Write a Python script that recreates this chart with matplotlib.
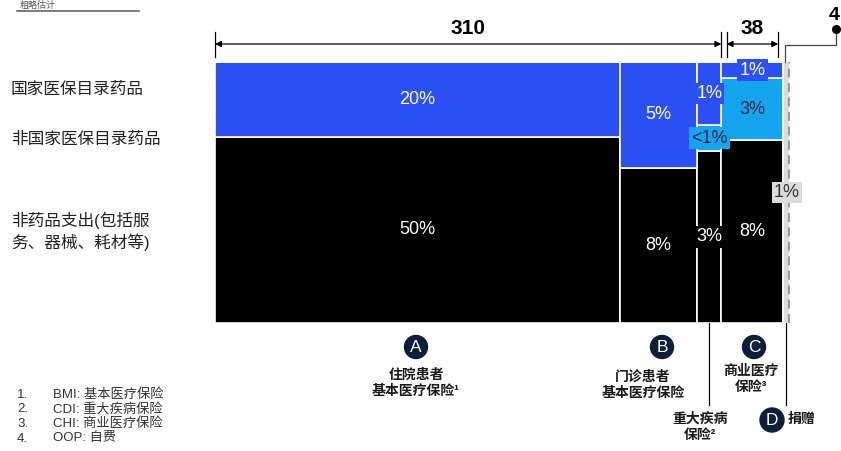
import matplotlib
matplotlib.use('Agg')
import matplotlib.pyplot as plt
import matplotlib.transforms as mtransforms
import matplotlib.patches as mpatches
import matplotlib.lines as mlines
import numpy as np

plt.rcParams['font.family'] = ['Liberation Sans', 'Noto Sans CJK SC', 'DejaVu Sans']

# ---------------- data ----------------
payers = ['住院患者\n基本医疗保险¹', '门诊患者\n基本医疗保险', '重大疾病\n保险²', '商业医疗\n保险³', '捐赠']
payer_letters = ['A', 'B', '', 'C', 'D']
col_widths = [248, 47, 15, 38, 4]          # spend per payer (bn)
group_totals = ['310', '38', '4']
row_names = ['国家医保目录药品', '非国家医保目录药品', '非药品支出(包括服\n务、器械、耗材等)']

nrdl_drugs = [20, 5.4, 1.1, 0.75, 0]       # share of total spend, %
non_nrdl_drugs = [0, 0, 0.45, 2.85, 0]
non_drug = [50, 7.9, 3.0, 8.4, 0]
donation = [0, 0, 0, 0, 1]

lab_nrdl = ['20%', '5%', '1%', '1%', '']
lab_non_nrdl = ['', '', '<1%', '3%', '']
lab_non_drug = ['50%', '8%', '3%', '8%', '']
lab_donation = ['', '', '', '', '1%']

footnotes = ['BMI: 基本医疗保险', 'CDI: 重大疾病保险', 'CHI: 商业医疗保险', 'OOP: 自费']

# ---------------- style ----------------
BLUE = '#2B50F5'
CYAN = '#14A5EE'
BLACK = '#000000'
GREY = '#DCDCDC'
NAVY = '#0B1F3A'
DARKTXT = '#16284A'

W, H = 841, 451
fig = plt.figure(figsize=(W / 100, H / 100), dpi=100)
fig.patch.set_facecolor('white')

def fx(px):
    return px / W

def fy(py):
    return 1 - py / H

X0, X1, Y0, Y1 = 215, 790, 62, 323
ax = fig.add_axes([fx(X0), fy(Y1), fx(X1 - X0), (Y1 - Y0) / H])
ax.set_xlim(0, sum(col_widths))
ax.set_ylim(0, 1)
ax.axis('off')

def ya(py):
    return (Y1 - py) / (Y1 - Y0)

trans = mtransforms.blended_transform_factory(ax.transData, ax.transAxes)

widths = np.array(col_widths, dtype=float)
lefts = np.concatenate([[0], np.cumsum(widths)[:-1]])
series = [
    (non_drug, BLACK, lab_non_drug, 'white', BLACK),
    (non_nrdl_drugs, CYAN, lab_non_nrdl, DARKTXT, CYAN),
    (nrdl_drugs, BLUE, lab_nrdl, 'white', BLUE),
    (donation, GREY, lab_donation, '#333333', GREY),
]
totals = np.sum([np.array(s[0], dtype=float) for s in series], axis=0)

bottom = np.zeros(len(widths))
label_font = dict(fontsize=13, ha='center', va='center')
for vals, color, labs, tcol, bcol in series:
    h = np.array(vals, dtype=float) / totals
    ax.bar(lefts, h, width=widths, bottom=bottom, align='edge', color=color,
           edgecolor='white', linewidth=1.2, zorder=2)
    for i, (lab, hh) in enumerate(zip(labs, h)):
        if not lab:
            continue
        cx = lefts[i] + widths[i] / 2
        cy = bottom[i] + hh / 2
        small = widths[i] < 45 or hh < 0.15
        bbox = dict(boxstyle='square,pad=0.12', fc=bcol, ec='none') if small else None
        ax.text(cx, cy, lab, color=tcol, bbox=bbox, zorder=5, **label_font)
    bottom += h

# dashed line in donation column
xd = lefts[-1] + widths[-1] * 0.8
ax.plot([xd, xd], [0, 1], ls=(0, (4, 2.5)), color='#9A9A9A', lw=1.6, zorder=3)

# ---------------- top brackets ----------------
lw = 0.9
ends = np.cumsum(widths)
g1_end = ends[2]
g2_start, g2_end = lefts[3], ends[3]
yarr = ya(44)
ytk0, ytk1 = ya(57), ya(32)
gap = 3.2

def vtick(x):
    ax.plot([x, x], [ytk0, ytk1], transform=trans, color='black', lw=lw, clip_on=False)

def dim(xa, xb, text):
    ax.annotate('', xy=(xa, yarr), xytext=(xb, yarr), xycoords=trans, textcoords=trans,
                arrowprops=dict(arrowstyle='<|-|>', color='black', lw=lw,
                                shrinkA=0, shrinkB=0, mutation_scale=9))
    vtick(xa)
    vtick(xb)
    ax.text((xa + xb) / 2, ya(29), text, transform=trans, ha='center', va='center',
            fontsize=15, fontweight='bold')

dim(0, g1_end, group_totals[0])
dim(g2_start + gap, g2_end - gap, group_totals[1])

# "4" connector for donation
xc = lefts[4] + 0.8
xr = (836 - X0) / (X1 - X0) * sum(col_widths)
ax.plot([xc, xc, xr, xr], [1.0, ya(45), ya(45), ya(29)], transform=trans,
        color='#444444', lw=lw, clip_on=False)
ax.plot([xr], [ya(29)], 'o', transform=trans, color='black', ms=5.5, clip_on=False)
ax.text(xr - 1.0, ya(15), group_totals[2], transform=trans, ha='center', va='center',
        fontsize=14, fontweight='bold', clip_on=False)

# ---------------- bottom payer labels ----------------
def circ(px, py, letter, r=11.5):
    c = mpatches.Ellipse((fx(px), fy(py)), 2 * r / W, 2 * r / H,
                         transform=fig.transFigure, color=NAVY, zorder=6)
    fig.add_artist(c)
    fig.text(fx(px), fy(py + 0.5), letter, ha='center', va='center', color='white',
             fontsize=12.5, zorder=7)

pay_font = dict(fontsize=10, fontweight='bold', ha='center', va='center',
                linespacing=1.25, color='#1a1a1a')

centers = lefts + widths / 2
# A
circ(416, 347, payer_letters[0])
fig.text(fx(416), fy(383), payers[0], **pay_font)
# B
circ(662, 347, payer_letters[1])
fig.text(fx(643), fy(385), payers[1], **pay_font)
# CDI
ax.plot([centers[2], centers[2]], [0, ya(405)], transform=trans, color='black', lw=lw,
        clip_on=False)
fig.text(fx(700), fy(427), payers[2], **pay_font)
# C
circ(754, 347, payer_letters[3])
fig.text(fx(751), fy(379), payers[3], **pay_font)
# D
ax.plot([centers[4] - 0.6, centers[4] - 0.6], [0, ya(405)], transform=trans,
        color='black', lw=lw, clip_on=False)
circ(772, 420, payer_letters[4], r=12)
fig.text(fx(788), fy(419), payers[4], fontsize=10, fontweight='bold', ha='left',
         va='center', color='#1a1a1a')

# ---------------- row labels ----------------
row_font = dict(fontsize=12, ha='left', va='center', color='#222222', linespacing=1.3)
fig.text(fx(11), fy(89), row_names[0], **row_font)
fig.text(fx(11), fy(139), row_names[1], **row_font)
fig.text(fx(11), fy(231), row_names[2], **row_font)

# ---------------- footnotes ----------------
for i, t in enumerate(footnotes):
    py = 395 + i * 14.5
    fig.text(fx(17), fy(py), f'{i + 1}.', fontsize=9.5, ha='left', va='center', color='#333333')
    fig.text(fx(53), fy(py), t, fontsize=9.5, ha='left', va='center', color='#333333')

# ---------------- top-left note ----------------
fig.text(fx(20), fy(9.5), '粗略估计', fontsize=6.5, ha='left', va='bottom', color='#555555')
fig.add_artist(mlines.Line2D([fx(17), fx(139)], [fy(11), fy(11)],
                             transform=fig.transFigure, color='#666666', lw=1.2))

fig.savefig('out.png', dpi=100, facecolor='white')
